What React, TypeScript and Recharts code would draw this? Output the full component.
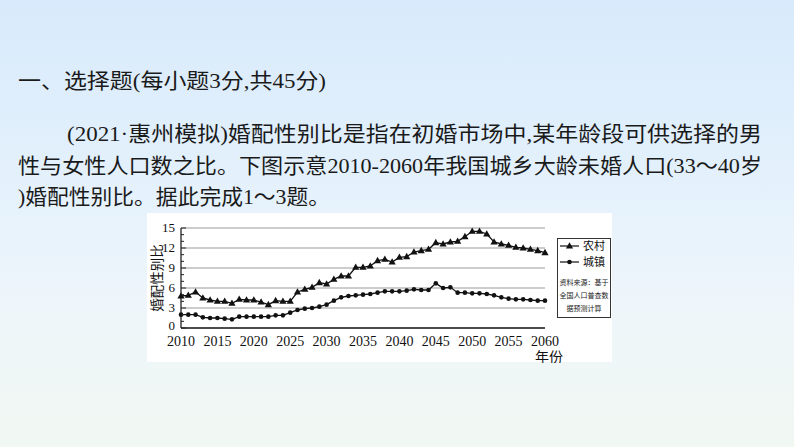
import React from 'react';
import { LineChart, Line, XAxis, YAxis, CartesianGrid } from 'recharts';

// 2010-2060, one point per year
const years = [
  2010, 2011, 2012, 2013, 2014, 2015, 2016, 2017, 2018, 2019,
  2020, 2021, 2022, 2023, 2024, 2025, 2026, 2027, 2028, 2029,
  2030, 2031, 2032, 2033, 2034, 2035, 2036, 2037, 2038, 2039,
  2040, 2041, 2042, 2043, 2044, 2045, 2046, 2047, 2048, 2049,
  2050, 2051, 2052, 2053, 2054, 2055, 2056, 2057, 2058, 2059, 2060,
];

// 农村
const rural = [
  4.8, 4.9, 5.4, 4.5, 4.2, 4.0, 4.0, 3.7, 4.3, 4.2,
  4.2, 3.9, 3.5, 4.1, 4.0, 4.0, 5.4, 5.8, 6.1, 6.8,
  6.6, 7.3, 7.8, 7.8, 9.1, 9.1, 9.3, 10.1, 10.3, 9.9,
  10.6, 10.7, 11.4, 11.6, 11.8, 12.8, 12.6, 12.9, 13.0, 13.7,
  14.5, 14.5, 14.1, 12.9, 12.6, 12.4, 12.1, 12.0, 11.8, 11.6, 11.3,
];

// 城镇
const urban = [
  2.0, 2.0, 2.0, 1.6, 1.5, 1.5, 1.4, 1.3, 1.7, 1.7,
  1.7, 1.7, 1.7, 1.9, 1.9, 2.3, 2.7, 2.9, 3.0, 3.2,
  3.5, 4.1, 4.6, 4.8, 4.9, 5.0, 5.1, 5.3, 5.5, 5.5,
  5.5, 5.6, 5.8, 5.7, 5.7, 6.7, 6.0, 6.1, 5.3, 5.3,
  5.2, 5.2, 5.1, 4.9, 4.6, 4.4, 4.3, 4.3, 4.2, 4.1, 4.1,
];

const xTicks = [2010, 2015, 2020, 2025, 2030, 2035, 2040, 2045, 2050, 2055, 2060];
const yTicks = [0, 1, 2, 3, 4, 5, 6, 7, 8, 9, 10, 11, 12, 13, 14, 15];
const gridValues = [3, 6, 9, 12, 15];

const data = years.map((year, i) => ({ year, rural: rural[i], urban: urban[i] }));

const serif = '"Liberation Serif", "Times New Roman", serif';
const cjk = '"Liberation Serif", "Noto Sans CJK SC", sans-serif';
const TICK_MARGIN = 5;

const TriangleDot = (props: any) => {
  const { cx, cy } = props;
  if (cx == null || cy == null) return null;
  return <path d={`M${cx},${cy - 3.8} L${cx + 3.6},${cy + 2.5} L${cx - 3.6},${cy + 2.5} Z`} fill="#111" />;
};

const CircleDot = (props: any) => {
  const { cx, cy } = props;
  if (cx == null || cy == null) return null;
  return <circle cx={cx} cy={cy} r={2.3} fill="#111" />;
};

const YTick = (props: any) => {
  const { x, y, payload } = props;
  const axisX = x + TICK_MARGIN;
  const major = payload.value % 3 === 0;
  return (
    <g>
      <line x1={axisX} x2={axisX + (major ? 5 : 3)} y1={y} y2={y} stroke="#222" strokeWidth={1} />
      {major && (
        <text x={x - 1} y={y} dy={payload.value === 0 ? 2 : 4} textAnchor="end" fontSize={13} fontFamily={serif} fill="#111">
          {payload.value}
        </text>
      )}
    </g>
  );
};

const XTick = (props: any) => {
  const { x, y, payload } = props;
  return (
    <text x={x} y={y} dy={13.5} textAnchor="middle" fontSize={14} fontFamily={serif} fill="#111">
      {payload.value}
    </text>
  );
};

const YLabel = (props: any) => {
  const { viewBox } = props;
  const cx = viewBox.x + 10;
  const cy = viewBox.y + viewBox.height / 2;
  return (
    <text
      x={cx}
      y={cy}
      transform={`rotate(-90 ${cx} ${cy})`}
      textAnchor="middle"
      dominantBaseline="central"
      fontSize={13.5}
      fontFamily={cjk}
      fill="#111"
    >
      婚配性别比
    </text>
  );
};

const XLabel = (props: any) => {
  const { viewBox } = props;
  return (
    <text
      x={viewBox.x + viewBox.width + 4}
      y={viewBox.y + 29}
      textAnchor="middle"
      dominantBaseline="central"
      fontSize={14}
      fontFamily={cjk}
      fill="#111"
    >
      年份
    </text>
  );
};

const lines = [
  { text: '一、选择题(每小题3分,共45分)', x: 18, y: 81, len: 308 },
  { text: '(2021·惠州模拟)婚配性别比是指在初婚市场中,某年龄段可供选择的男', x: 67, y: 134, len: 695 },
  { text: '性与女性人口数之比。下图示意2010-2060年我国城乡大龄未婚人口(33～40岁', x: 18, y: 166, len: 744 },
  { text: ')婚配性别比。据此完成1～3题。', x: 18, y: 197, len: 312 },
];

const LegendBox = () => (
  <div
    style={{
      position: 'absolute',
      left: 557,
      top: 238,
      width: 54,
      height: 80,
      border: '1px solid #333',
      boxSizing: 'border-box',
      background: '#fff',
    }}
  >
    <svg width={54} height={80} style={{ position: 'absolute', left: -1, top: -1 }}>
      <line x1={3} x2={22} y1={8} y2={8} stroke="#111" strokeWidth={1.2} />
      <path d="M12.5,4.2 L16.1,10.5 L8.9,10.5 Z" fill="#111" />
      <text x={26} y={8} dominantBaseline="central" fontSize={11} fontFamily={cjk} fill="#111">农村</text>
      <line x1={3} x2={22} y1={24} y2={24} stroke="#111" strokeWidth={1.2} />
      <circle cx={12.5} cy={24} r={2.3} fill="#111" />
      <text x={26} y={24} dominantBaseline="central" fontSize={11} fontFamily={cjk} fill="#111">城镇</text>
      <text x={27} y={45} textAnchor="middle" dominantBaseline="central" fontSize={7} fontFamily={cjk} fill="#222">资料来源：基于</text>
      <text x={27} y={58} textAnchor="middle" dominantBaseline="central" fontSize={7} fontFamily={cjk} fill="#222">全国人口普查数</text>
      <text x={27} y={71} textAnchor="middle" dominantBaseline="central" fontSize={7} fontFamily={cjk} fill="#222">据预测计算</text>
    </svg>
  </div>
);

export default function App() {
  return (
    <div
      style={{
        position: 'absolute',
        left: 0,
        top: 0,
        width: 794,
        height: 447,
        overflow: 'hidden',
        background: 'linear-gradient(180deg, #d8eafb 0%, #e2f0fc 35%, #edf5fb 65%, #f1f8f2 100%)',
      }}
    >
      <svg width={794} height={447} style={{ position: 'absolute', left: 0, top: 0 }}>
        {lines.map((l) => (
          <text
            key={l.text}
            x={l.x}
            y={l.y}
            dominantBaseline="central"
            fontSize={21}
            fontFamily={cjk}
            fill="#1a1a1a"
            textLength={l.len}
            lengthAdjust="spacingAndGlyphs"
          >
            {l.text}
          </text>
        ))}
      </svg>

      <div style={{ position: 'absolute', left: 147, top: 213, width: 465, height: 149, background: '#fff' }} />

      <div style={{ position: 'absolute', left: 147, top: 213 }}>
        <LineChart width={465} height={150} data={data} margin={{ top: 15, right: 67, bottom: 0, left: 0 }}>
          <CartesianGrid vertical={false} horizontalValues={gridValues} stroke="#9a9a9a" strokeWidth={1} />
          <XAxis
            dataKey="year"
            type="number"
            domain={[2010, 2060]}
            ticks={xTicks}
            interval={0}
            tickLine={false}
            tickSize={0}
            tickMargin={4}
            axisLine={{ stroke: '#111', strokeWidth: 1.5 }}
            tick={<XTick />}
            height={35}
            label={<XLabel />}
          />
          <YAxis
            type="number"
            domain={[0, 15]}
            ticks={yTicks}
            interval={0}
            width={34}
            tickSize={0}
            tickMargin={TICK_MARGIN}
            tickLine={false}
            axisLine={{ stroke: '#111', strokeWidth: 1.2 }}
            tick={<YTick />}
            label={<YLabel />}
          />
          <Line
            dataKey="rural"
            stroke="#111"
            strokeWidth={1.3}
            dot={<TriangleDot />}
            activeDot={false}
            isAnimationActive={false}
          />
          <Line
            dataKey="urban"
            stroke="#111"
            strokeWidth={1.3}
            dot={<CircleDot />}
            activeDot={false}
            isAnimationActive={false}
          />
        </LineChart>
      </div>

      <LegendBox />
    </div>
  );
}
